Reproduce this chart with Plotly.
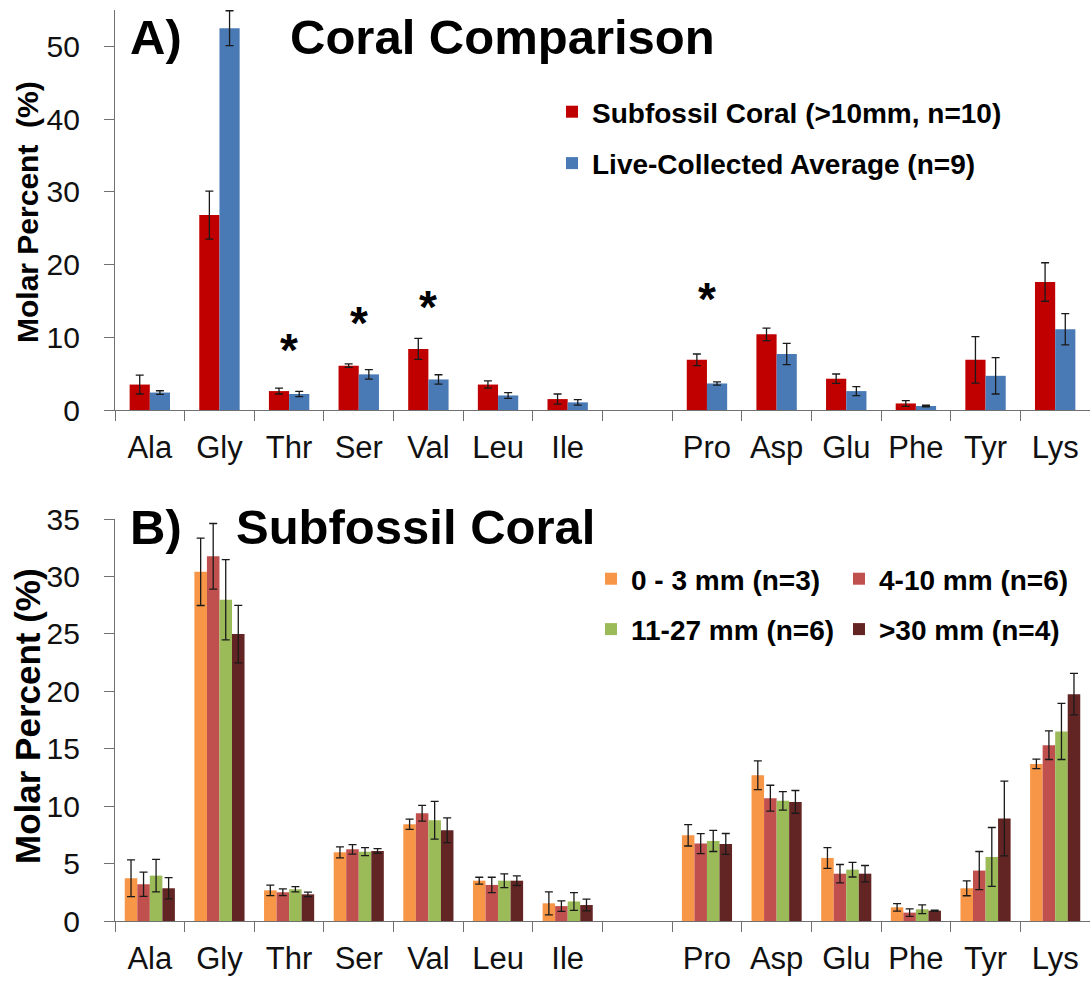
import plotly.graph_objects as go

categories = ["Ala", "Gly", "Thr", "Ser", "Val", "Leu", "Ile", " ", "Pro", "Asp", "Glu", "Phe", "Tyr", "Lys"]

# Panel A
subfossil = [3.5, 26.8, 2.6, 6.1, 8.4, 3.5, 1.5, None, 6.9, 10.4, 4.3, 0.9, 6.9, 17.6]
subfossil_err = [1.3, 3.3, 0.4, 0.25, 1.45, 0.5, 0.7, None, 0.8, 0.85, 0.65, 0.4, 3.2, 2.65]
live = [2.4, 52.5, 2.2, 4.9, 4.2, 2.0, 1.05, None, 3.65, 7.7, 2.6, 0.55, 4.7, 11.1]
live_err = [0.25, 2.4, 0.37, 0.65, 0.65, 0.4, 0.37, None, 0.23, 1.45, 0.62, 0.1, 2.5, 2.15]
star_cats = ["Thr", "Ser", "Val", "Pro"]
star_y = [8.2, 11.9, 14.2, 15.2]

# Panel B
b_0_3 = [3.72, 30.4, 2.67, 5.98, 8.42, 3.51, 1.54, None, 7.46, 12.69, 5.49, 1.19, 2.85, 13.68]
b_0_3_err = [1.6, 2.93, 0.46, 0.48, 0.45, 0.3, 1.0, None, 0.93, 1.25, 0.9, 0.33, 0.65, 0.41]
b_4_10 = [3.2, 31.75, 2.5, 6.24, 9.38, 3.14, 1.3, None, 6.74, 10.69, 4.12, 0.73, 4.39, 15.31]
b_4_10_err = [1.05, 2.86, 0.29, 0.41, 0.68, 0.67, 0.46, None, 0.87, 1.13, 0.8, 0.33, 1.66, 1.25]
b_11_27 = [3.95, 27.97, 2.76, 6.04, 8.77, 3.51, 1.7, None, 6.97, 10.46, 4.47, 1.02, 5.58, 16.5]
b_11_27_err = [1.42, 3.5, 0.23, 0.35, 1.64, 0.6, 0.77, None, 0.92, 0.81, 0.64, 0.38, 2.56, 2.44]
b_30 = [2.85, 24.98, 2.32, 6.1, 7.9, 3.51, 1.39, None, 6.71, 10.37, 4.12, 0.9, 8.92, 19.75]
b_30_err = [0.93, 2.5, 0.2, 0.2, 1.07, 0.42, 0.51, None, 0.91, 0.99, 0.71, 0.05, 3.25, 1.81]

FONT = "Liberation Sans, Arial, sans-serif"
ERR_COLOR = "#1a1a1a"
AXIS_COLOR = "#707070"
W, H = 1090, 984

fig = go.Figure()

def err(arr):
    return dict(type="data", array=arr, visible=True, color=ERR_COLOR, thickness=1.3, width=4)

# Panel A bars
wA = 0.29
fig.add_trace(go.Bar(x=categories, y=subfossil, error_y=err(subfossil_err), name="<b>Subfossil Coral (>10mm, n=10)</b>",
                     marker=dict(color="#C00000", line=dict(width=0)), width=wA, offset=-wA,
                     xaxis="x", yaxis="y", legend="legend", legendgroup="a1"))
fig.add_trace(go.Bar(x=categories, y=live, error_y=err(live_err), name="<b>Live-Collected Average (n=9)</b>",
                     marker=dict(color="#4A7AB5", line=dict(width=0)), width=wA, offset=0,
                     xaxis="x", yaxis="y", legend="legend", legendgroup="a2"))

# Panel B bars
wB = 0.18
b_series = [
    ("0 - 3 mm (n=3)", b_0_3, b_0_3_err, "#F79646", "legend2"),
    ("4-10 mm (n=6)", b_4_10, b_4_10_err, "#C0504D", "legend3"),
    ("11-27 mm (n=6)", b_11_27, b_11_27_err, "#9BBB59", "legend2"),
    (">30 mm (n=4)", b_30, b_30_err, "#632523", "legend3"),
]
for i, (nm, vals, errs, col, lg) in enumerate(b_series):
    fig.add_trace(go.Bar(x=categories, y=vals, error_y=err(errs), name="<b>" + nm + "</b>",
                         marker=dict(color=col, line=dict(width=0)), width=wB, offset=-2 * wB + i * wB,
                         xaxis="x2", yaxis="y2", legend=lg, legendgroup="b%d" % i))

xdom = [115 / W, 1.0]
xcommon = dict(type="category", categoryorder="array", categoryarray=categories, range=[-0.5, 13.5],
               tickson="boundaries", ticks="outside", ticklen=10, tickcolor=AXIS_COLOR, tickwidth=1.3,
               showline=True, linecolor=AXIS_COLOR, linewidth=1.3, showgrid=False, zeroline=False,
               automargin=False, tickfont=dict(family=FONT, size=31, color="#111"), ticklabelstandoff=10, domain=xdom)
ycommon = dict(ticks="outside", ticklen=10, tickcolor=AXIS_COLOR, tickwidth=1.3, showline=True,
               linecolor=AXIS_COLOR, linewidth=1.3, showgrid=False, zeroline=False, automargin=False,
               ticklabelstandoff=18, tickfont=dict(family=FONT, size=30, color="#111"))

legfont = dict(family=FONT, size=28, color="#000")
fig.update_layout(
    width=W, height=H, margin=dict(l=0, r=0, t=0, b=0, pad=0, autoexpand=False),
    paper_bgcolor="white", plot_bgcolor="white", barmode="overlay",
    font=dict(family=FONT, color="#000"),
    xaxis=dict(anchor="y", **xcommon),
    yaxis=dict(anchor="x", domain=[1 - 410 / H, 1 - 10 / H], range=[0, 55], tickvals=[0, 10, 20, 30, 40, 50], **ycommon),
    xaxis2=dict(anchor="y2", **xcommon),
    yaxis2=dict(anchor="x2", domain=[1 - 921 / H, 1 - 519 / H], range=[0, 35], tickvals=[0, 5, 10, 15, 20, 25, 30, 35], **ycommon),
    legend=dict(x=552 / W, y=1 - 87 / H, xanchor="left", yanchor="top", tracegroupgap=12,
                font=legfont, bgcolor="rgba(0,0,0,0)", traceorder="grouped"),
    legend2=dict(x=591 / W, y=1 - 554 / H, xanchor="left", yanchor="top", tracegroupgap=11,
                 font=legfont, bgcolor="rgba(0,0,0,0)", traceorder="grouped"),
    legend3=dict(x=839 / W, y=1 - 554 / H, xanchor="left", yanchor="top", tracegroupgap=11,
                 font=legfont, bgcolor="rgba(0,0,0,0)", traceorder="grouped"),
)

# Axis titles (rotated)
fig.add_annotation(text="<b>Molar Percent  (%)</b>", x=27 / W, y=1 - 212 / H, xref="paper", yref="paper",
                   textangle=-90, showarrow=False, xanchor="center", yanchor="middle",
                   font=dict(family=FONT, size=30, color="#000"))
fig.add_annotation(text="<b>Molar Percent (%)</b>", x=27 / W, y=1 - 716 / H, xref="paper", yref="paper",
                   textangle=-90, showarrow=False, xanchor="center", yanchor="middle",
                   font=dict(family=FONT, size=35, color="#000"))

# Titles
fig.add_annotation(text="<b>A)</b>", x=128 / W, y=1 - 37 / H, xref="paper", yref="paper",
                   xanchor="left", yanchor="middle", showarrow=False, font=dict(family=FONT, size=49, color="#000"))
fig.add_annotation(text="<b>Coral Comparison</b>", x=288 / W, y=1 - 37 / H, xref="paper", yref="paper",
                   xanchor="left", yanchor="middle", showarrow=False, font=dict(family=FONT, size=49, color="#000"))
fig.add_annotation(text="<b>B)</b>", x=128 / W, y=1 - 527 / H, xref="paper", yref="paper",
                   xanchor="left", yanchor="middle", showarrow=False, font=dict(family=FONT, size=49, color="#000"))
fig.add_annotation(text="<b>Subfossil Coral</b>", x=234 / W, y=1 - 527 / H, xref="paper", yref="paper",
                   xanchor="left", yanchor="middle", showarrow=False, font=dict(family=FONT, size=49, color="#000"))

# Significance stars
for c, yv in zip(star_cats, star_y):
    fig.add_annotation(text="<b>*</b>", x=c, y=yv, xref="x", yref="y", showarrow=False,
                       xanchor="center", yanchor="middle", font=dict(family=FONT, size=46, color="#000"))

fig.write_html("out.html", config={"displayModeBar": False},
               post_script="document.body.style.margin='0';document.body.style.overflow='hidden';")
